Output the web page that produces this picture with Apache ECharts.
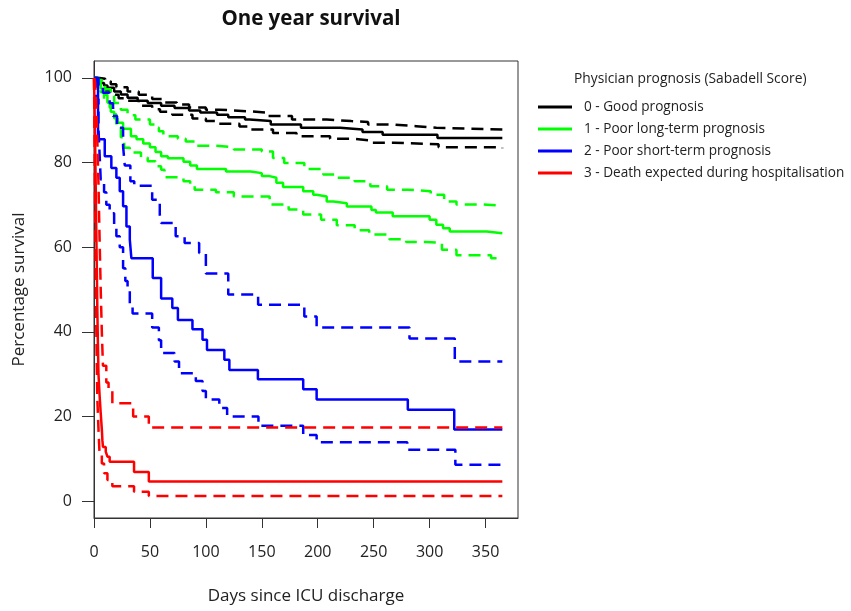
<!DOCTYPE html>
<html>
<head>
<meta charset="utf-8">
<script src="https://cdn.jsdelivr.net/npm/echarts@6/dist/echarts.min.js"></script>
<style>
html,body{margin:0;padding:0;background:#fff;}
#chart{width:851px;height:611px;}
</style>
</head>
<body>
<div id="chart"></div>
<script>
// ---- Data (days since ICU discharge, percentage survival) ----
const groupNames = [
  '0 - Good prognosis',
  '1 - Poor long-term prognosis',
  '2 - Poor short-term prognosis',
  '3 - Death expected during hospitalisation'
];
const groupColors = ['#000000', '#00ff00', '#0000ff', '#ff0000'];
const xTicks = [0, 50, 100, 150, 200, 250, 300, 350];
const yTicks = [0, 20, 40, 60, 80, 100];

const g0Est = [[0,100],[3,99.5],[6,98.8],[9,98.2],[12,97.7],[18,96.8],[24,96.1],[30,95.3],[39,94.6],[48,94.1],[60,93.4],[72,92.9],[85,92.3],[95,91.8],[110,91.3],[120,90.7],[135,90.2],[139,89.8],[158,89.0],[185,88.2],[220,87.8],[240,87.2],[258,86.6],[307,85.8],[365,85.7]];
const g0Up  = [[0,100],[5,99.8],[10,99.2],[15,98.5],[20,97.8],[30,96.8],[40,96.0],[52,95.0],[62,94.2],[74,93.7],[85,93.0],[100,92.5],[112,92.1],[139,91.8],[154,91.0],[177,90.2],[208,89.8],[230,89.6],[245,89.0],[267,88.6],[288,88.2],[306,87.8],[365,87.8]];
const g0Lo  = [[0,100],[3,99],[6,98],[10,97],[15,96],[22,95.2],[29,94.6],[40,93.4],[52,92.6],[59,92.0],[70,91.3],[88,90.4],[100,89.8],[112,89.2],[130,88.5],[139,87.8],[160,87.0],[181,86.2],[211,85.6],[232,85.2],[248,84.7],[268,84.3],[308,83.6],[365,83.4]];

const g1Est = [[0,100],[3,99],[6,97.5],[9,96],[12,94.2],[15,92],[18,90.5],[21,89.4],[26,88],[33,86.2],[38,85.5],[44,84.5],[50,83.6],[55,82.5],[60,81.5],[66,81],[80,80.2],[86,79.3],[92,78.5],[118,77.9],[140,77.5],[150,76.8],[157,76.4],[163,75.2],[169,74.2],[187,73.2],[196,72.4],[199,72.0],[208,70.8],[214,70.4],[226,69.6],[248,68.8],[252,68.2],[267,67.3],[300,66.5],[306,65.3],[312,64.5],[318,63.7],[351,63.3],[365,63.3]];
const g1Up  = [[0,100],[4,99.5],[7,98.5],[10,97.3],[15,95.7],[18,94.1],[24,92.5],[30,91.2],[37,90.2],[50,89],[56,88.2],[58,87.4],[62,86.2],[75,85.6],[82,85.0],[90,84.0],[108,83.6],[125,83.1],[150,82.6],[160,81.1],[170,79.9],[188,78.5],[205,77.2],[216,76.4],[233,75.6],[247,74.4],[262,73.6],[280,73.2],[301,72.4],[313,70.8],[324,70.1],[348,69.8],[365,69.7]];
const g1Lo  = [[0,100],[3,98.5],[6,96.6],[9,94.2],[14,93],[17,91.4],[20,88.5],[24,86],[27,83.5],[32,82.4],[42,81.2],[48,80.3],[55,79.1],[60,78.3],[63,76.5],[80,75.6],[86,74.8],[90,73.6],[109,73.0],[125,72.0],[157,70.1],[174,68.9],[187,67.7],[203,66.5],[217,65.2],[233,64.0],[246,63.0],[264,61.9],[279,61.2],[297,61.0],[311,59.4],[324,58.1],[355,57.4],[365,57.4]];

const g2Est = [[0,100],[3.6,85.5],[9.6,81.5],[15.5,78.7],[20,76.4],[23,73.2],[26,69.7],[29,64.9],[32,61.8],[33.4,57.4],[52.5,52.7],[60,47.9],[70,45.6],[75,42.8],[88,40.6],[97,38.1],[101,35.7],[116.5,33.4],[121,31.0],[146.5,28.8],[187,26.4],[199,24.0],[280.5,21.6],[322,16.9],[365,16.9]];
const g2Up  = [[0,100],[4,98],[8,96.5],[14,94],[17,91],[20.6,88.2],[26,83.9],[27.5,79.3],[32.5,75.6],[36,74.5],[52,71.2],[58.8,67.7],[60,65.7],[73,62.6],[81,61.0],[94,58.6],[100,53.8],[120,48.8],[146.7,46.4],[188,43.6],[199,41.0],[282,38.4],[322.5,33.0],[365,33.0]];
const g2Lo  = [[0,100],[2,95],[4,88],[5,82],[6,76],[9,73],[11,70],[14,68],[18,65],[20,62.6],[23,60],[26,55],[28,52],[30,50],[32,46],[34.5,44.3],[52,41],[58,38],[60,35],[72,33],[76,30.2],[91,28.4],[97,26],[100,24],[112,22],[119,20],[147,17.8],[187,15.6],[199,13.9],[280,12.1],[323,8.6],[365,8.6]];

const g3Est = [[0,100],[0.5,93],[1,85],[1.5,75],[2,65],[2.5,55],[3,45],[3.5,37],[4,30],[5,25],[6,20.8],[7,17],[7.5,14.4],[8,12.8],[10.5,11.7],[12,10.5],[14,9.3],[35.8,6.9],[49,4.6],[365,4.6]];
const g3Up  = [[0,100],[1,99],[2,94],[3,85],[4,75],[5,62],[6,50],[7,40],[8,32],[11,28],[13,26],[16.4,23.1],[35,20.0],[49,17.4],[365,17.4]];
const g3Lo  = [[0,100],[0.5,85],[1,70],[1.5,55],[2,42],[2.5,32],[3,24],[4,17],[5,11],[7,8.9],[9,6.6],[12,5],[16.4,3.5],[35.8,2.2],[49,1.2],[365,1.2]];

const groups = [
  {est: g0Est, up: g0Up, lo: g0Lo},
  {est: g1Est, up: g1Up, lo: g1Lo},
  {est: g2Est, up: g2Up, lo: g2Lo},
  {est: g3Est, up: g3Up, lo: g3Lo}
];

const FONT = '"Open Sans", "Noto Sans", sans-serif';
const series = [];
groups.forEach((g, i) => {
  const base = {
    type: 'line', step: 'end', showSymbol: false, symbol: 'none',
    animation: false, silent: true, z: 2 + i
  };
  series.push(Object.assign({}, base, {
    name: groupNames[i], data: g.est,
    lineStyle: {color: groupColors[i], width: 2.5}, itemStyle: {color: groupColors[i]}
  }));
  series.push(Object.assign({}, base, {
    name: groupNames[i] + ' upper', data: g.up,
    lineStyle: {color: groupColors[i], width: 2.5, type: [12, 7]}, itemStyle: {color: groupColors[i]}
  }));
  series.push(Object.assign({}, base, {
    name: groupNames[i] + ' lower', data: g.lo,
    lineStyle: {color: groupColors[i], width: 2.5, type: [12, 7]}, itemStyle: {color: groupColors[i]}
  }));
});

const chart = echarts.init(document.getElementById('chart'), null, {renderer: 'canvas'});
chart.setOption({
  animation: false,
  backgroundColor: '#ffffff',
  textStyle: {fontFamily: FONT},
  title: [
    {text: 'One year survival', left: 306, top: 4, textAlign: 'center',
     textStyle: {fontFamily: FONT, fontWeight: 'bold', fontSize: 20.5, color: '#111'}},
    {text: 'Physician prognosis (Sabadell Score)', left: 569, top: 67,
     textStyle: {fontFamily: FONT, fontWeight: 'normal', fontSize: 13.8, color: '#222'}}
  ],
  legend: {
    data: groupNames, orient: 'vertical', left: 533, top: 95,
    itemWidth: 34, itemHeight: 3, itemGap: 8,
    icon: 'rect',
    textStyle: {fontFamily: FONT, fontSize: 13.6, color: '#222', padding: [0, 0, 0, 7]},
    selectedMode: false
  },
  grid: {left: 94, right: 333, top: 61, bottom: 93, show: true, borderColor: '#333', borderWidth: 1, backgroundColor: 'transparent'},
  xAxis: {
    type: 'value', min: 0, max: 379,
    name: 'Days since ICU discharge', nameLocation: 'middle', nameGap: 70,
    nameTextStyle: {fontFamily: FONT, fontSize: 17, color: '#222'},
    axisLine: {show: true, onZero: false, lineStyle: {color: '#333', width: 1}},
    axisTick: {show: true, length: 10, lineStyle: {color: '#333'}, customValues: xTicks},
    axisLabel: {fontFamily: FONT, fontSize: 16, color: '#222', margin: 26, customValues: xTicks},
    splitLine: {show: false}
  },
  yAxis: {
    type: 'value', min: -4, max: 104,
    name: 'Percentage survival', nameLocation: 'middle', nameGap: 66, nameRotate: 90,
    nameTextStyle: {fontFamily: FONT, fontSize: 17, color: '#222'},
    axisLine: {show: true, onZero: false, lineStyle: {color: '#333', width: 1}},
    axisTick: {show: true, length: 12, lineStyle: {color: '#333'}, customValues: yTicks},
    axisLabel: {fontFamily: FONT, fontSize: 16, color: '#222', margin: 22, customValues: yTicks},
    splitLine: {show: false}
  },
  series: series
});
</script>
</body>
</html>
